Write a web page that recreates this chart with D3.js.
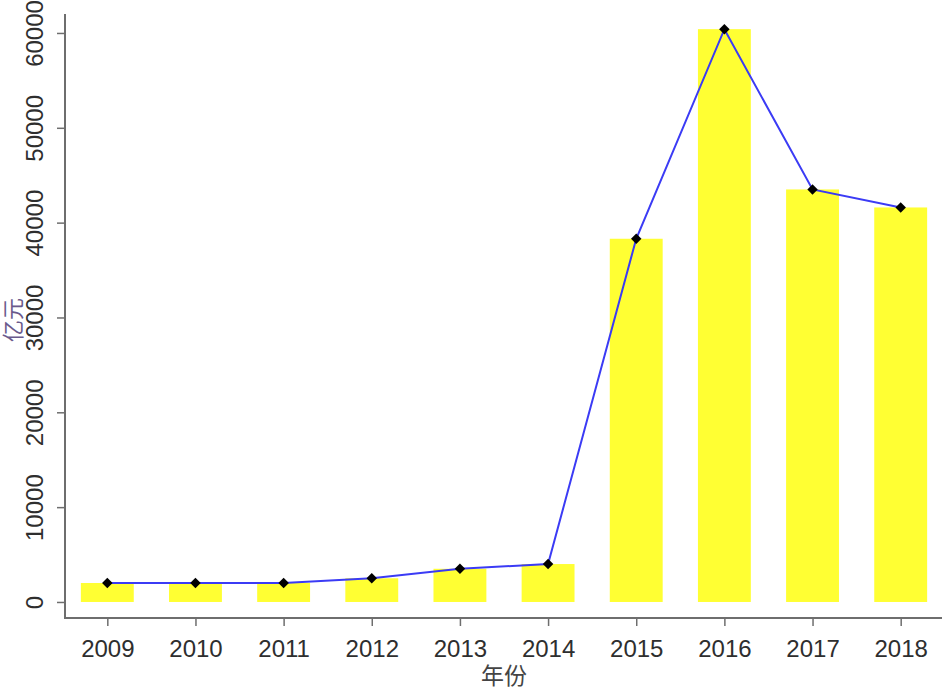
<!DOCTYPE html>
<html>
<head>
<meta charset="utf-8">
<script src="https://cdn.jsdelivr.net/npm/d3@7"></script>
<style>
html,body{margin:0;padding:0;background:#fff;}
svg{display:block;}
</style>
</head>
<body>
<svg id="chart" width="942" height="688"></svg>
<script>
const years = ["2009","2010","2011","2012","2013","2014","2015","2016","2017","2018"];
const values = [2000, 2000, 2000, 2500, 3500, 4000, 38300, 60400, 43500, 41600];
const yTicks = [0, 10000, 20000, 30000, 40000, 50000, 60000];
const xTitle = "年份";
const yTitle = "亿元";

const svg = d3.select("#chart");
const pL = 65, pR = 943, pT = 14, pB = 618;

const x = d3.scaleLinear().domain([-0.48, years.length - 0.52]).range([pL, pR]);
const y = d3.scaleLinear().domain([-1690, 62000]).range([pB, pT]);
const barW = x(0.6) - x(0);

const axisColor = "#6e6e6e";
const textColor = "#2e2e2e";
const latin = "'Liberation Sans', Arial, sans-serif";
const cjk = "'Noto Sans CJK SC', sans-serif";

// bars
svg.append("g").selectAll("rect").data(values).join("rect")
  .attr("x", (d, i) => x(i) - barW / 2)
  .attr("y", d => y(d))
  .attr("width", barW)
  .attr("height", d => y(0) - y(d))
  .attr("fill", "#ffff33");

// line
const line = d3.line().x((d, i) => x(i)).y(d => y(d));
svg.append("path").datum(values)
  .attr("d", line)
  .attr("fill", "none")
  .attr("stroke", "#3b3bf5")
  .attr("stroke-width", 2);

// diamond markers
const diamond = d3.symbol().type(d3.symbolDiamond2).size(70);
svg.append("g").selectAll("path").data(values).join("path")
  .attr("d", diamond)
  .attr("transform", (d, i) => `translate(${x(i)},${y(d)})`)
  .attr("fill", "#000");

// y axis
const yAxis = d3.axisLeft(y).tickValues(yTicks).tickSize(8).tickSizeOuter(0).tickFormat(d3.format("d"));
const gy = svg.append("g").attr("transform", `translate(${pL},0)`).call(yAxis);
gy.select(".domain").remove();
gy.append("line").attr("x1", 0).attr("x2", 0).attr("y1", pT).attr("y2", pB)
  .attr("stroke", axisColor).attr("stroke-width", 2);
gy.selectAll(".tick line").attr("stroke", axisColor).attr("stroke-width", 1.5);
gy.selectAll(".tick text")
  .attr("transform", "rotate(-90)")
  .attr("x", 0).attr("y", -22).attr("dy", null)
  .attr("text-anchor", "middle")
  .attr("fill", textColor)
  .style("font-family", latin)
  .style("font-size", "24px");

// x axis
const xAxis = d3.axisBottom(x).tickValues(d3.range(years.length)).tickSize(8).tickSizeOuter(0)
  .tickFormat(i => years[i]);
const gx = svg.append("g").attr("transform", `translate(0,${pB})`).call(xAxis);
gx.select(".domain").remove();
gx.append("line").attr("x1", pL - 1).attr("x2", pR).attr("y1", 0).attr("y2", 0)
  .attr("stroke", axisColor).attr("stroke-width", 2);
gx.selectAll(".tick line").attr("stroke", axisColor).attr("stroke-width", 1.5);
gx.selectAll(".tick text")
  .attr("y", 39).attr("dy", null)
  .attr("fill", textColor)
  .style("font-family", latin)
  .style("font-size", "24px");

// titles
svg.append("text")
  .attr("x", (pL + pR) / 2).attr("y", 684)
  .attr("text-anchor", "middle")
  .attr("fill", "#444")
  .style("font-family", cjk)
  .style("font-size", "23px")
  .text(xTitle);

svg.append("text")
  .attr("transform", `translate(21,${(pT + pB) / 2 + 4}) rotate(-90)`)
  .attr("text-anchor", "middle")
  .attr("fill", "#6a5a8c")
  .style("font-family", cjk)
  .style("font-size", "22px")
  .text(yTitle);
</script>
</body>
</html>
